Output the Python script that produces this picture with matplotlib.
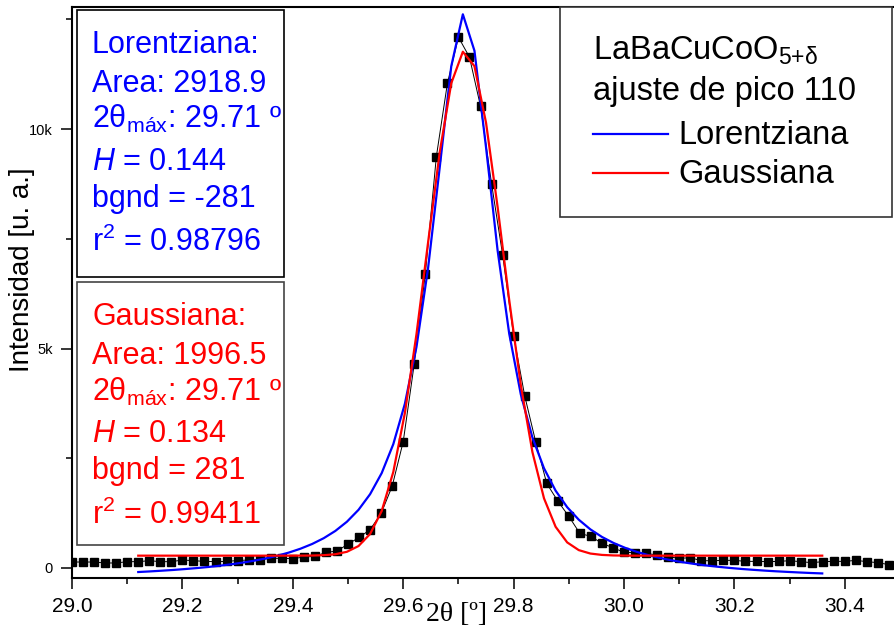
import matplotlib.pyplot as plt
from matplotlib.ticker import MultipleLocator, FormatStrFormatter, FuncFormatter
from matplotlib.patches import Rectangle
from matplotlib.lines import Line2D

# datos medidos (2theta, intensidad)
x_data = [29.00, 29.02, 29.04, 29.06, 29.08, 29.10, 29.12, 29.14, 29.16, 29.18,
          29.20, 29.22, 29.24, 29.26, 29.28, 29.30, 29.32, 29.34, 29.36, 29.38,
          29.40, 29.42, 29.44, 29.46, 29.48, 29.50, 29.52, 29.54, 29.56, 29.58,
          29.60, 29.62, 29.64, 29.66, 29.68, 29.70, 29.72, 29.74, 29.76, 29.78,
          29.80, 29.82, 29.84, 29.86, 29.88, 29.90, 29.92, 29.94, 29.96, 29.98,
          30.00, 30.02, 30.04, 30.06, 30.08, 30.10, 30.12, 30.14, 30.16, 30.18,
          30.20, 30.22, 30.24, 30.26, 30.28, 30.30, 30.32, 30.34, 30.36, 30.38,
          30.40, 30.42, 30.44, 30.46, 30.48]
y_data = [136, 136, 136, 114, 114, 144, 144, 167, 144, 144,
          182, 167, 150, 144, 150, 170, 182, 190, 220, 220,
          212, 250, 265, 356, 386, 545, 695, 875, 1243, 1864,
          2880, 4653, 6698, 9372, 11040, 12092, 11638, 10517, 8755, 7137,
          5289, 3925, 2871, 1925, 1525, 1175, 788, 720, 561, 462,
          356, 350, 334, 295, 257, 220, 234, 166, 166, 174,
          174, 151, 151, 144, 151, 166, 144, 121, 144, 151,
          151, 174, 144, 121, 76]

# curvas de ajuste
x_fit = [29.120, 29.141, 29.162, 29.183, 29.204, 29.225, 29.246, 29.267, 29.288, 29.309,
         29.330, 29.351, 29.372, 29.393, 29.414, 29.435, 29.456, 29.477, 29.498, 29.519,
         29.540, 29.561, 29.582, 29.603, 29.624, 29.645, 29.666, 29.687, 29.708, 29.729,
         29.750, 29.771, 29.792, 29.813, 29.834, 29.855, 29.876, 29.897, 29.918, 29.939,
         29.960, 29.981, 30.002, 30.023, 30.044, 30.065, 30.086, 30.107, 30.128, 30.149,
         30.170, 30.191, 30.212, 30.233, 30.254, 30.275, 30.296, 30.317, 30.338, 30.359]
y_lorentz = [-92, -78, -62, -45, -25, -3, 22, 51, 84, 122,
             166, 218, 279, 352, 440, 547, 679, 844, 1054, 1325,
             1682, 2162, 2821, 3741, 5037, 6829, 9115, 11429, 12614, 11784,
             9580, 7231, 5337, 3955, 2973, 2271, 1762, 1385, 1100, 880,
             707, 570, 459, 368, 292, 229, 175, 130, 91, 57,
             28, 2, -21, -41, -59, -75, -89, -102, -114, -124]
y_gauss = [281, 281, 281, 281, 281, 281, 281, 281, 281, 281,
           281, 281, 281, 281, 282, 284, 292, 313, 369, 500,
           775, 1298, 2187, 3531, 5327, 7414, 9463, 11042, 11761, 11433,
           10143, 8222, 6102, 4166, 2642, 1587, 939, 583, 407, 329,
           298, 286, 282, 281, 281, 281, 281, 281, 281, 281,
           281, 281, 281, 281, 281, 281, 281, 281, 281, 281]

lorentz_lines = ['Lorentziana:', 'Area: 2918.9', r'2θ$_{\mathregular{máx}}$: 29.71 º',
                 r'$\mathit{H}$ = 0.144', 'bgnd = -281', r'r$^{\mathregular{2}}$ = 0.98796']
gauss_lines = ['Gaussiana:', 'Area: 1996.5', r'2θ$_{\mathregular{máx}}$: 29.71 º',
               r'$\mathit{H}$ = 0.134', 'bgnd = 281', r'r$^{\mathregular{2}}$ = 0.99411']

plt.rcParams['font.family'] = ['Liberation Sans', 'DejaVu Sans']
plt.rcParams['mathtext.fontset'] = 'custom'
plt.rcParams['mathtext.rm'] = 'Liberation Sans'
plt.rcParams['mathtext.it'] = 'Liberation Sans:italic'

W, H = 894, 630


def fx(x):
    return x / W


def fy(y):
    return 1 - y / H


fig = plt.figure(figsize=(W / 100, H / 100), dpi=100)
ax = fig.add_axes([fx(72), fy(578), (894 - 72) / W, (578 - 7) / H])

ax.plot(x_data, y_data, color='black', lw=0.7, marker='s', ms=5.3, zorder=2)
ax.plot(x_fit, y_lorentz, color='#0000ff', lw=1.6, zorder=3)
ax.plot(x_fit, y_gauss, color='#ff0000', lw=1.6, zorder=3)

ax.set_xlim(29.0, 30.489)
ax.set_ylim(-228, 12780)
ax.xaxis.set_major_locator(MultipleLocator(0.2))
ax.xaxis.set_minor_locator(MultipleLocator(0.1))
ax.xaxis.set_major_formatter(FormatStrFormatter('%.1f'))
ax.yaxis.set_major_locator(MultipleLocator(5000))
ax.yaxis.set_minor_locator(MultipleLocator(2500))
ax.yaxis.set_major_formatter(FuncFormatter(lambda v, p: '0' if v == 0 else f'{v / 1000:g}k'))
ax.tick_params(which='major', direction='out', length=8, width=1.1)
ax.tick_params(which='minor', direction='out', length=4, width=1.1)
ax.tick_params(axis='x', labelsize=15, pad=6)
ax.tick_params(axis='y', labelsize=10.5, pad=6)
for s in ['left', 'bottom', 'top']:
    ax.spines[s].set_linewidth(1.5)
ax.spines['right'].set_visible(False)

fig.text(fx(22), fy(270), 'Intensidad [u. a.]', rotation=90, ha='center', va='center', fontsize=20)
fig.text(fx(457), fy(621), '2θ [º]', ha='center', va='baseline', fontsize=20,
         family=['Liberation Serif', 'DejaVu Serif'])

# cuadros de resultados
fig.add_artist(Rectangle((fx(77), fy(277)), (284 - 77) / W, (277 - 10) / H,
                         transform=fig.transFigure, fc='white', ec='black', lw=1.2))
fig.add_artist(Rectangle((fx(77), fy(545)), (284 - 77) / W, (545 - 282) / H,
                         transform=fig.transFigure, fc='white', ec='#444444', lw=1.2))
for txt, yb in zip(lorentz_lines, [53, 92, 128, 170, 207, 251]):
    fig.text(fx(92), fy(yb), txt, color='#0000ff', fontsize=22, va='baseline')
for txt, yb in zip(gauss_lines, [325, 364, 401, 442, 479, 524]):
    fig.text(fx(92), fy(yb), txt, color='#ff0000', fontsize=22, va='baseline')

# leyenda
fig.add_artist(Rectangle((fx(560), fy(217)), (892 - 560) / W, (217 - 7) / H,
                         transform=fig.transFigure, fc='white', ec='#333333', lw=1.2))
fig.text(fx(593), fy(60), r'LaBaCuCoO$_{\mathregular{5{+}δ}}$', fontsize=23.5, va='baseline')
fig.text(fx(593), fy(100), 'ajuste de pico 110', fontsize=23.5, va='baseline')
fig.add_artist(Line2D([fx(593), fx(668)], [fy(134), fy(134)], color='#0000ff', lw=1.6))
fig.add_artist(Line2D([fx(593), fx(668)], [fy(173), fy(173)], color='#ff0000', lw=1.6))
fig.text(fx(678), fy(144), 'Lorentziana', fontsize=23.5, va='baseline')
fig.text(fx(678), fy(183), 'Gaussiana', fontsize=23.5, va='baseline')

fig.savefig('out.png', dpi=100)
